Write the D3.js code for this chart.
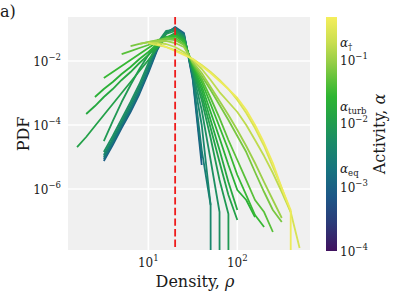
<!DOCTYPE html>
<html>
<head>
<meta charset="utf-8">
<script src="https://cdn.jsdelivr.net/npm/d3@7"></script>
<style>
  body { margin: 0; background: #fff; }
  svg { display: block; }
  text { font-family: "DejaVu Serif", "Liberation Serif", serif; fill: #1a1a1a; }
</style>
</head>
<body>
<svg id="chart" width="407" height="305"></svg>
<script>
// density bins (0.1 dex apart), shared by every curve
var rhoBins = [1.58, 2.0, 2.51, 3.16, 3.98, 5.01, 6.31, 7.94, 10, 12.6, 15.8, 20, 25.1,
               31.6, 39.8, 50.1, 63.1, 79.4, 100, 126, 158, 200, 251, 316, 398, 501, 631];

// activity of each run, low to high
var activity = [9e-4, 1.6e-3, 2.8e-3, 4.2e-3, 6e-3, 9e-3, 1.2e-2, 1.6e-2,
                2.2e-2, 3e-2, 4.5e-2, 6.5e-2, 0.1, 0.16, 0.25, 0.4];

// first bin index of each run
var seriesStart = [3, 3, 3, 3, 3, 3, 0, 1, 2, 3, 5, 6, 7, 8, 8, 9];

// PDF per run (0 = empty bin)
var pdfSeries = [
  [7.5e-6, 2.37e-5, 8.06e-5, 2.55e-4, 9.3e-4, 4.22e-3, 0.0221, 0.0698, 0.1155, 0.075, 2.55e-3, 5.62e-6],
  [8.66e-6, 2.74e-5, 9.3e-5, 2.94e-4, 1.07e-3, 4.87e-3, 0.0237, 0.075, 0.1074, 0.0698, 2.94e-3, 9.3e-6],
  [1.0e-5, 3.16e-5, 1.07e-4, 3.4e-4, 1.24e-3, 5.62e-3, 0.0274, 0.0806, 0.1074, 0.0649, 3.4e-3, 1.65e-5, 3.16e-7],
  [1.155e-5, 3.65e-5, 1.24e-4, 4.22e-4, 1.54e-3, 6.98e-3, 0.0316, 0.0806, 0.1, 0.0604, 3.92e-3, 1.0e-4, 3.16e-7, 0],
  [1.43e-5, 4.53e-5, 1.54e-4, 5.23e-4, 1.91e-3, 8.66e-3, 0.0365, 0.0866, 0.0931, 0.0562, 4.53e-3, 2.94e-4, 8.06e-6, 1.91e-7, 0],
  [3.16e-5, 1.33e-4, 5.23e-4, 1.78e-3, 5.62e-3, 0.0154, 0.0365, 0.0698, 0.0866, 0.0523, 5.23e-3, 6.04e-4, 3.92e-5, 1.91e-6, 1.65e-7, 0],
  [2.05e-5, 4.22e-5, 9.3e-5, 2.05e-4, 4.53e-4, 1.0e-3, 2.21e-3, 4.87e-3, 0.0107, 0.0255, 0.0523, 0.075, 0.0487, 6.04e-3, 8.66e-4, 8.06e-5, 6.98e-6, 6.49e-7, 1.07e-7],
  [2.21e-4, 3.92e-4, 7.5e-4, 1.33e-3, 2.55e-3, 4.53e-3, 8.66e-3, 0.0154, 0.0294, 0.0523, 0.0698, 0.0453, 6.49e-3, 1.24e-3, 1.43e-4, 1.65e-5, 1.65e-6, 2.21e-7],
  [7.5e-4, 1.33e-3, 2.21e-3, 3.92e-3, 6.49e-3, 0.01155, 0.0191, 0.034, 0.0523, 0.0649, 0.0422, 6.98e-3, 1.65e-3, 2.55e-4, 3.92e-5, 5.62e-6, 9.3e-7, 4.53e-7, 1.33e-7],
  [2.94e-3, 4.53e-3, 6.98e-3, 0.0107, 0.0165, 0.0255, 0.0392, 0.0562, 0.0604, 0.0392, 7.5e-3, 2.21e-3, 4.53e-4, 8.66e-5, 1.65e-5, 2.74e-6, 6.49e-7, 1.54e-7, 6.49e-8],
  [0.0165, 0.0205, 0.0255, 0.0316, 0.0422, 0.0523, 0.0523, 0.034, 8.06e-3, 2.74e-3, 6.98e-4, 1.65e-4, 3.4e-5, 8.06e-6, 1.91e-6, 4.53e-7, 1.91e-7, 4.53e-8],
  [0.0294, 0.034, 0.0392, 0.0453, 0.0487, 0.0453, 0.0316, 8.66e-3, 3.4e-3, 1.24e-3, 4.22e-4, 1.43e-4, 4.53e-5, 1.43e-5, 3.4e-6, 8.06e-7, 2.21e-7, 9.3e-8],
  [0.034, 0.0392, 0.0422, 0.0422, 0.0365, 0.0274, 9.3e-3, 4.22e-3, 1.54e-3, 5.62e-4, 2.05e-4, 6.98e-5, 2.21e-5, 6.49e-6, 1.65e-6, 4.53e-7, 1.24e-7],
  [0.0365, 0.0365, 0.034, 0.0274, 0.0191, 0.0107, 5.62e-3, 2.55e-3, 1.07e-3, 5.23e-4, 2.55e-4, 1.0e-4, 3.4e-5, 1.07e-5, 3.16e-6, 8.06e-7, 1.91e-7],
  [0.0365, 0.0316, 0.0274, 0.0221, 0.0165, 0.01155, 7.5e-3, 4.53e-3, 2.55e-3, 1.33e-3, 6.04e-4, 2.37e-4, 8.06e-5, 2.21e-5, 4.87e-6, 1.07e-6, 1.91e-7, 1.43e-8],
  [0.034, 0.0274, 0.0205, 0.0154, 0.01155, 6.98e-3, 4.22e-3, 2.37e-3, 1.33e-3, 6.98e-4, 2.94e-4, 1.0e-4, 2.74e-5, 6.49e-6, 1.07e-6, 2.21e-7, 0]
];

var rhoRef = 20;
var xTicks = [10, 100];
var yTicks = [1e-2, 1e-4, 1e-6];
var cbarTicks = [1e-4, 1e-3, 1e-2, 1e-1];
var alphaMarks = ["eq", "turb", "\u2020"];
var alphaMarkValues = [1.86e-3, 1.78e-2, 0.178];

// colour map (log10 alpha -> colour)
var cmapLog = [-4.0, -3.56, -3.15, -2.73, -2.3, -1.9, -1.58, -1.36, -1.05, -0.73, -0.33];
var cmapColors = ["#40125f", "#2b3b78", "#1d5787", "#17737f", "#1b8a68", "#23a247",
                  "#2db532", "#55bf38", "#94cd46", "#c9de50", "#f5ee5c"];

var svg = d3.select("#chart");
var plotL = 68, plotR = 310, plotT = 17, plotB = 250;

var x = d3.scaleLog().domain([1.25, 656]).range([plotL, plotR]);
var y = d3.scaleLog().domain([Math.pow(10, -0.625), Math.pow(10, -7.906)]).range([plotT, plotB]);
var cmap = d3.scaleLinear().domain(cmapLog).range(cmapColors).interpolate(d3.interpolateRgb).clamp(true);
function colorOf(a) { return cmap(Math.log10(a)); }

var defs = svg.append("defs");
defs.append("clipPath").attr("id", "plotclip")
  .append("rect").attr("x", plotL).attr("y", plotT).attr("width", plotR - plotL).attr("height", plotB - plotT);

svg.append("rect").attr("x", plotL).attr("y", plotT).attr("width", plotR - plotL).attr("height", plotB - plotT)
  .attr("fill", "#f0f0f0");

// grid
svg.append("g").selectAll("line").data(xTicks).enter().append("line")
  .attr("x1", function (d) { return x(d); }).attr("x2", function (d) { return x(d); })
  .attr("y1", plotT).attr("y2", plotB)
  .attr("stroke", "#fff").attr("stroke-width", 1.6);
svg.append("g").selectAll("line").data(yTicks).enter().append("line")
  .attr("y1", function (d) { return y(d); }).attr("y2", function (d) { return y(d); })
  .attr("x1", plotL).attr("x2", plotR)
  .attr("stroke", "#fff").attr("stroke-width", 1.6);

// curves
var line = d3.line()
  .defined(function (d) { return d[1] != null; })
  .x(function (d) { return x(d[0]); })
  .y(function (d) { return y(d[1] > 0 ? d[1] : 1e-300); });

var plot = svg.append("g").attr("clip-path", "url(#plotclip)");
pdfSeries.forEach(function (vals, i) {
  var pts = vals.map(function (v, j) { return [rhoBins[seriesStart[i] + j], v]; });
  plot.append("path")
    .attr("d", line(pts))
    .attr("fill", "none")
    .attr("stroke", colorOf(activity[i]))
    .attr("stroke-width", 1.8)
    .attr("stroke-linejoin", "round");
});

plot.append("line")
  .attr("x1", x(rhoRef)).attr("x2", x(rhoRef))
  .attr("y1", plotT).attr("y2", plotB)
  .attr("stroke", "#ee1c1c").attr("stroke-width", 1.8)
  .attr("stroke-dasharray", "7.4,3.2");

// tick labels
function powLabel(sel, exp) {
  sel.append("tspan").text("10");
  sel.append("tspan").attr("dy", -6).attr("font-size", 8.5).text(exp);
}
svg.append("g").selectAll("text").data(xTicks).enter().append("text")
  .attr("x", function (d) { return x(d); }).attr("y", 267)
  .attr("text-anchor", "middle").attr("font-size", 12)
  .each(function (d) { powLabel(d3.select(this), String(Math.round(Math.log10(d)))); });
svg.append("g").selectAll("text").data(yTicks).enter().append("text")
  .attr("x", 61).attr("y", function (d) { return y(d) + 5; })
  .attr("text-anchor", "end").attr("font-size", 12)
  .each(function (d) { powLabel(d3.select(this), "\u2212" + Math.round(-Math.log10(d))); });

// axis labels
var xl = svg.append("text").attr("x", 195).attr("y", 287).attr("text-anchor", "middle").attr("font-size", 16);
xl.append("tspan").text("Density, ");
xl.append("tspan").attr("font-style", "italic").text("\u03c1");
svg.append("text").attr("transform", "translate(29,134) rotate(-90)")
  .attr("text-anchor", "middle").attr("font-size", 16).text("PDF");
svg.append("text").attr("x", 0).attr("y", 17).attr("font-size", 16).text("a)");

// colorbar
var cb = d3.scaleLog().domain([1e-4, Math.pow(10, -0.33)]).range([251, 17]);
var cbX = 326, cbW = 11;
var grad = defs.append("linearGradient").attr("id", "cbgrad")
  .attr("x1", 0).attr("y1", 1).attr("x2", 0).attr("y2", 0);
cmapLog.forEach(function (l, i) {
  grad.append("stop").attr("offset", (l - cmapLog[0]) / (cmapLog[cmapLog.length - 1] - cmapLog[0]))
    .attr("stop-color", cmapColors[i]);
});
svg.append("rect").attr("x", cbX).attr("y", 17).attr("width", cbW).attr("height", 234)
  .attr("fill", "url(#cbgrad)");

svg.append("g").selectAll("text").data(cbarTicks).enter().append("text")
  .attr("x", 340).attr("y", function (d) { return cb(d) + 5; })
  .attr("font-size", 12)
  .each(function (d) { powLabel(d3.select(this), "\u2212" + Math.round(-Math.log10(d))); });

alphaMarks.forEach(function (m, i) {
  var t = svg.append("text").attr("x", 340).attr("y", cb(alphaMarkValues[i]) + 3).attr("font-size", 12);
  t.append("tspan").attr("font-style", "italic").text("\u03b1");
  t.append("tspan").attr("dy", 3).attr("font-size", 8.5).text(m);
});

var cl = svg.append("text").attr("transform", "translate(385,134) rotate(-90)")
  .attr("text-anchor", "middle").attr("font-size", 16);
cl.append("tspan").text("Activity, ");
cl.append("tspan").attr("font-style", "italic").text("\u03b1");
</script>
</body>
</html>
